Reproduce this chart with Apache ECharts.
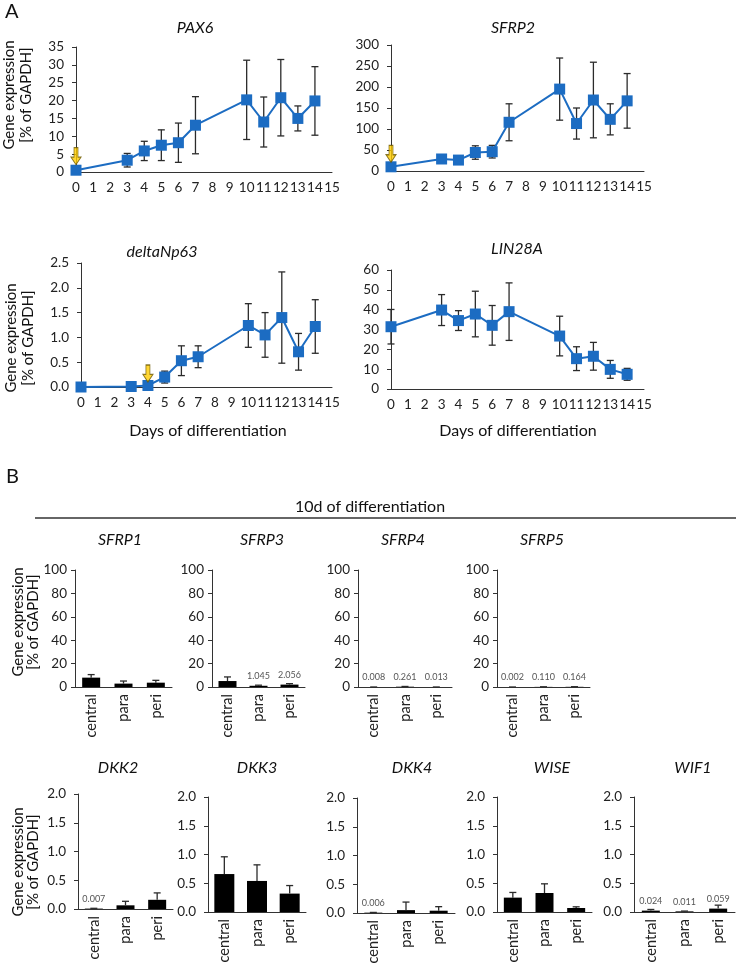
<!DOCTYPE html>
<html>
<head>
<meta charset="utf-8">
<script src="https://cdn.jsdelivr.net/npm/echarts@6/dist/echarts.min.js"></script>
<style>
  html, body { margin: 0; background: #fff; }
  #main { width: 738px; height: 968px; }
</style>
</head>
<body>
<div id="main"></div>
<script>
// ---- A: time course (mean and SD) ----
const days = [0, 3, 4, 5, 6, 7, 10, 11, 12, 13, 14];
const pax6 = [0.5, 3.3, 5.9, 7.5, 8.2, 13.1, 20.2, 14.0, 20.8, 15.0, 19.9];
const pax6Sd = [0.3, 1.9, 2.7, 4.3, 5.5, 8.0, 11.1, 7.0, 10.7, 3.5, 9.6];
const sfrp2 = [10, 28.6, 26, 44, 46, 116, 195, 113, 169, 123, 167];
const sfrp2Sd = [3, 5, 5, 16, 15, 44, 74, 37, 90, 37, 65];
const dNp63 = [0, 0.01, 0.03, 0.2, 0.53, 0.61, 1.24, 1.05, 1.40, 0.71, 1.22];
const dNp63Sd = [0, 0.005, 0.02, 0.12, 0.3, 0.22, 0.44, 0.45, 0.92, 0.37, 0.54];
const lin28a = [31.4, 39.8, 34.5, 37.8, 32.1, 39.0, 26.7, 15.3, 16.5, 9.9, 7.4];
const lin28aSd = [8.7, 7.8, 5, 11.5, 10, 14.5, 10, 6, 7, 4.5, 3];

// ---- B: 10d of differentiation ----
const regions = ['central', 'para', 'peri'];
const sfrp1 = [8.0, 2.9, 3.7], sfrp1Sd = [2.6, 2.2, 2.0];
const sfrp3 = [5.1, 1.045, 2.056], sfrp3Sd = [3.5, 0.5, 0.8];
const sfrp4 = [0.008, 0.261, 0.013], sfrp4Sd = [0.005, 0.2, 0.01];
const sfrp5 = [0.002, 0.110, 0.164], sfrp5Sd = [0.001, 0.08, 0.1];
const dkk2 = [0.007, 0.064, 0.16], dkk2Sd = [0.005, 0.07, 0.12];
const dkk3 = [0.66, 0.54, 0.32], dkk3Sd = [0.30, 0.28, 0.14];
const dkk4 = [0.006, 0.05, 0.04], dkk4Sd = [0.004, 0.14, 0.07];
const wise = [0.25, 0.33, 0.07], wiseSd = [0.09, 0.16, 0.02];
const wif1 = [0.024, 0.011, 0.059], wif1Sd = [0.02, 0.005, 0.06];
// small value labels printed above the bars
const sfrp3Tags = ['', '1.045', '2.056'];
const sfrp4Tags = ['0.008', '0.261', '0.013'];
const sfrp5Tags = ['0.002', '0.110', '0.164'];
const dkk2Tags = ['0.007', '', ''];
const dkk4Tags = ['0.006', '', ''];
const wif1Tags = ['0.024', '0.011', '0.059'];

const FONT = 'Lato, "Open Sans", sans-serif';
const BLUE = '#1c6cc2';
const INK = '#222';

const linePanels = [
  { title: 'PAX6', vals: pax6, sd: pax6Sd, max: 35, step: 5, dec: 0, arrow: 0, off: -14, box: [76, 47, 256, 125], tx: 195, ty: 28 },
  { title: 'SFRP2', vals: sfrp2, sd: sfrp2Sd, max: 300, step: 50, dec: 0, arrow: 0, off: -13, box: [391, 45, 253, 126], tx: 513, ty: 28 },
  { title: 'deltaNp63', vals: dNp63, sd: dNp63Sd, max: 2.5, step: 0.5, dec: 1, arrow: 4, off: -12, box: [81, 263, 251, 124], tx: 162, ty: 252 },
  { title: 'LIN28A', vals: lin28a, sd: lin28aSd, max: 60, step: 10, dec: 0, box: [391, 270, 253, 119], tx: 517, ty: 249 }
];

const barPanels = [
  { title: 'SFRP1', vals: sfrp1, sd: sfrp1Sd, max: 100, step: 20, dec: 0, box: [75, 570, 97, 117], tx: 120, ty: 540 },
  { title: 'SFRP3', vals: sfrp3, sd: sfrp3Sd, tags: sfrp3Tags, max: 100, step: 20, dec: 0, box: [212, 570, 93, 117], tx: 262, ty: 540 },
  { title: 'SFRP4', vals: sfrp4, sd: sfrp4Sd, tags: sfrp4Tags, max: 100, step: 20, dec: 0, box: [358, 570, 94, 117], tx: 403, ty: 540 },
  { title: 'SFRP5', vals: sfrp5, sd: sfrp5Sd, tags: sfrp5Tags, max: 100, step: 20, dec: 0, box: [497, 570, 93, 117], tx: 542, ty: 540 },
  { title: 'DKK2', vals: dkk2, sd: dkk2Sd, tags: dkk2Tags, max: 2, step: 0.5, dec: 1, box: [78, 794, 95, 115], tx: 118, ty: 768 },
  { title: 'DKK3', vals: dkk3, sd: dkk3Sd, max: 2, step: 0.5, dec: 1, bw: 20, box: [208, 797, 98, 115], tx: 257, ty: 768 },
  { title: 'DKK4', vals: dkk4, sd: dkk4Sd, tags: dkk4Tags, max: 2, step: 0.5, dec: 1, box: [357, 798, 98, 115], tx: 412, ty: 768 },
  { title: 'WISE', vals: wise, sd: wiseSd, max: 2, step: 0.5, dec: 1, box: [497, 797, 95, 115], tx: 552, ty: 768 },
  { title: 'WIF1', vals: wif1, sd: wif1Sd, tags: wif1Tags, max: 2, step: 0.5, dec: 1, box: [634, 797, 101, 115], tx: 693, ty: 768 }
];

// error bar drawn through the axes' own scales
function errBar(upOnly) {
  return function (params, api) {
    const x = api.value(0), v = api.value(1), e = api.value(2);
    const top = api.coord([x, v + e]);
    const bot = api.coord([x, upOnly ? v : v - e]);
    const cap = 3.5;
    const style = { stroke: '#2b2b2b', lineWidth: 1.3 };
    const kids = [
      { type: 'line', shape: { x1: top[0], y1: top[1], x2: bot[0], y2: bot[1] }, style: style },
      { type: 'line', shape: { x1: top[0] - cap, y1: top[1], x2: top[0] + cap, y2: top[1] }, style: style }
    ];
    if (!upOnly) {
      kids.push({ type: 'line', shape: { x1: bot[0] - cap, y1: bot[1], x2: bot[0] + cap, y2: bot[1] }, style: style });
    }
    return { type: 'group', children: kids };
  };
}

function yAxisFor(p, gi, margin) {
  return {
    type: 'value', gridIndex: gi, min: 0, max: p.max, interval: p.step,
    axisLine: { show: true, lineStyle: { color: '#333', width: 1 } },
    axisTick: { show: true, length: 4, lineStyle: { color: '#333' } },
    splitLine: { show: false },
    axisLabel: { fontFamily: FONT, fontSize: 13.5, color: INK, margin: margin,
      formatter: v => v.toFixed(p.dec) }
  };
}

const grid = [], xAxis = [], yAxis = [], series = [], graphic = [];

linePanels.forEach((p, gi) => {
  grid.push({ left: p.box[0], top: p.box[1], width: p.box[2], height: p.box[3] });
  xAxis.push({
    type: 'value', gridIndex: gi, min: 0, max: 15, interval: 1,
    axisLine: { show: true, onZero: false, lineStyle: { color: '#333', width: 1 } },
    axisTick: { show: false }, splitLine: { show: false },
    axisLabel: { fontFamily: FONT, fontSize: 13.5, color: INK, margin: 9 }
  });
  yAxis.push(yAxisFor(p, gi, 12));
  series.push({
    type: 'custom', xAxisIndex: gi, yAxisIndex: gi, z: 2,
    renderItem: errBar(false),
    encode: { x: 0, y: 1 },
    data: days.map((d, i) => [d, p.vals[i], p.sd[i]])
  });
  series.push({
    type: 'line', xAxisIndex: gi, yAxisIndex: gi, z: 3,
    data: days.map((d, i) => [d, p.vals[i]]),
    symbol: 'rect', symbolSize: 11,
    lineStyle: { color: BLUE, width: 2 },
    itemStyle: { color: BLUE }
  });
  if (p.arrow !== undefined) {
    const i = days.indexOf(p.arrow);
    series.push({
      type: 'scatter', xAxisIndex: gi, yAxisIndex: gi, z: 5,
      data: [[p.arrow, p.vals[i]]],
      symbol: 'path://M3,0L7,0L7,10L10,10L5,18L0,10L3,10Z',
      symbolSize: [10, 17], symbolOffset: [0, p.off],
      itemStyle: { color: '#ffcc00', borderColor: '#6b5800', borderWidth: 1 }
    });
  }
  graphic.push({ type: 'text', x: p.tx, y: p.ty,
    style: { text: p.title, font: 'italic 16px ' + FONT, fill: '#111', textAlign: 'center', textVerticalAlign: 'middle' } });
});

barPanels.forEach((p, k) => {
  const gi = k + linePanels.length;
  grid.push({ left: p.box[0], top: p.box[1], width: p.box[2], height: p.box[3] });
  xAxis.push({
    type: 'category', gridIndex: gi, data: regions,
    axisLine: { show: true, lineStyle: { color: '#333', width: 1 } },
    axisTick: { show: false },
    axisLabel: { fontFamily: FONT, fontSize: 14.5, color: INK, rotate: 90, margin: 7, interval: 0 }
  });
  yAxis.push(yAxisFor(p, gi, p.dec ? 12 : 8));
  series.push({
    type: 'bar', xAxisIndex: gi, yAxisIndex: gi, z: 2,
    data: p.vals, barWidth: p.bw || 18,
    itemStyle: { color: '#000' },
    label: {
      show: !!p.tags, position: 'top', distance: 5,
      fontFamily: FONT, fontSize: 9, color: '#555',
      formatter: q => (p.tags ? p.tags[q.dataIndex] : '')
    }
  });
  series.push({
    type: 'custom', xAxisIndex: gi, yAxisIndex: gi, z: 3,
    renderItem: errBar(true),
    encode: { x: 0, y: 1 },
    data: p.vals.map((v, i) => [i, v, p.sd[i]])
  });
  graphic.push({ type: 'text', x: p.tx, y: p.ty,
    style: { text: p.title, font: 'italic 16px ' + FONT, fill: '#111', textAlign: 'center', textVerticalAlign: 'middle' } });
});

// panel letters, axis titles, section header
const yTitle = (x, y, lh) => ({
  type: 'text', x: x, y: y, rotation: Math.PI / 2,
  style: { text: 'Gene expression\n[% of GAPDH]', font: '15px ' + FONT, fill: '#111',
    textAlign: 'center', textVerticalAlign: 'middle', lineHeight: lh }
});
graphic.push(
  { type: 'text', x: 5, y: 12, style: { text: 'A', font: '20px ' + FONT, fill: '#111', textVerticalAlign: 'middle' } },
  { type: 'text', x: 6, y: 477, style: { text: 'B', font: '20px ' + FONT, fill: '#111', textVerticalAlign: 'middle' } },
  yTitle(18, 95, 17), yTitle(20, 338, 17), yTitle(26, 622, 15), yTitle(26, 862, 15),
  { type: 'text', x: 208, y: 431, style: { text: 'Days of differentiation', font: '16px ' + FONT, fill: '#111', textAlign: 'center', textVerticalAlign: 'middle' } },
  { type: 'text', x: 518, y: 431, style: { text: 'Days of differentiation', font: '16px ' + FONT, fill: '#111', textAlign: 'center', textVerticalAlign: 'middle' } },
  { type: 'text', x: 370, y: 507, style: { text: '10d of differentiation', font: '16px ' + FONT, fill: '#111', textAlign: 'center', textVerticalAlign: 'middle' } },
  { type: 'line', shape: { x1: 35, y1: 518, x2: 736, y2: 518 }, style: { stroke: '#333', lineWidth: 1.3 } }
);

const chart = echarts.init(document.getElementById('main'));
chart.setOption({
  animation: false,
  backgroundColor: '#fff',
  grid: grid,
  xAxis: xAxis,
  yAxis: yAxis,
  series: series,
  graphic: graphic
});
</script>
</body>
</html>
